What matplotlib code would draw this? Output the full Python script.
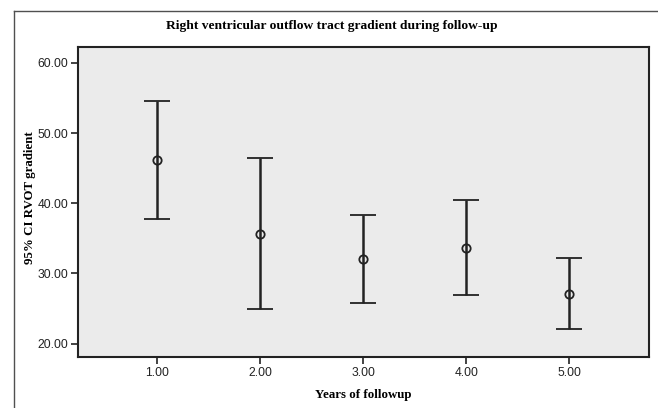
import matplotlib
matplotlib.use("Agg")
import matplotlib.pyplot as plt
from matplotlib.lines import Line2D
import numpy as np

years = [1.0, 2.0, 3.0, 4.0, 5.0]
means = [46.2, 35.7, 32.0, 33.7, 27.1]
lower = [37.7, 25.0, 25.8, 26.9, 22.1]
upper = [54.6, 46.4, 38.3, 40.5, 32.2]
xticks = [1.0, 2.0, 3.0, 4.0, 5.0]
yticks = [20.0, 30.0, 40.0, 50.0, 60.0]

W, H = 658, 408
fig = plt.figure(figsize=(W / 100, H / 100), dpi=100)
fig.patch.set_facecolor("white")

# outer chart frame (left and top)
fig.add_artist(Line2D([14 / W, 14 / W], [0, 1 - 11 / H], transform=fig.transFigure,
                      color="#505050", lw=1.0))
fig.add_artist(Line2D([14 / W, 1], [1 - 11 / H, 1 - 11 / H], transform=fig.transFigure,
                      color="#505050", lw=1.0))

left, right, top, bottom = 77.7, 649.3, 46.5, 357.0
ax = fig.add_axes([left / W, 1 - bottom / H, (right - left) / W, (bottom - top) / H])
ax.set_facecolor("#ebebeb")

m = np.array(means)
yerr = [m - np.array(lower), np.array(upper) - m]
ax.errorbar(years, means, yerr=yerr, fmt="o", mfc="none", mec="#222222", mew=1.3,
            ms=6, ecolor="#222222", elinewidth=1.8, capsize=9.4, capthick=1.9,
            color="#222222")

ax.set_xlim(0.225, 5.78)
ax.set_ylim(18.1, 62.35)
ax.set_xticks(xticks)
ax.set_yticks(yticks)
ax.set_xticklabels([f"{v:.2f}" for v in xticks], family="Liberation Sans", fontsize=8.7, color="#222222")
ax.set_yticklabels([f"{v:.2f}" for v in yticks], family="Liberation Sans", fontsize=8.7, color="#222222")
ax.tick_params(axis="both", length=5, width=1.2, color="#222222", pad=2)

for s in ax.spines.values():
    s.set_linewidth(1.5)
    s.set_color("#222222")

fig.text(332 / W, 1 - 26 / H, "Right ventricular outflow tract gradient during follow-up",
         ha="center", va="center", family="Liberation Serif", fontweight="bold", fontsize=9.7)
fig.text(363 / W, 1 - 395 / H, "Years of followup", ha="center", va="center",
         family="Liberation Serif", fontweight="bold", fontsize=9.3)
fig.text(30 / W, 1 - 198 / H, "95% CI RVOT gradient", ha="center", va="center", rotation=90,
         family="Liberation Serif", fontweight="bold", fontsize=9.3)

fig.savefig("out.png", dpi=100)
